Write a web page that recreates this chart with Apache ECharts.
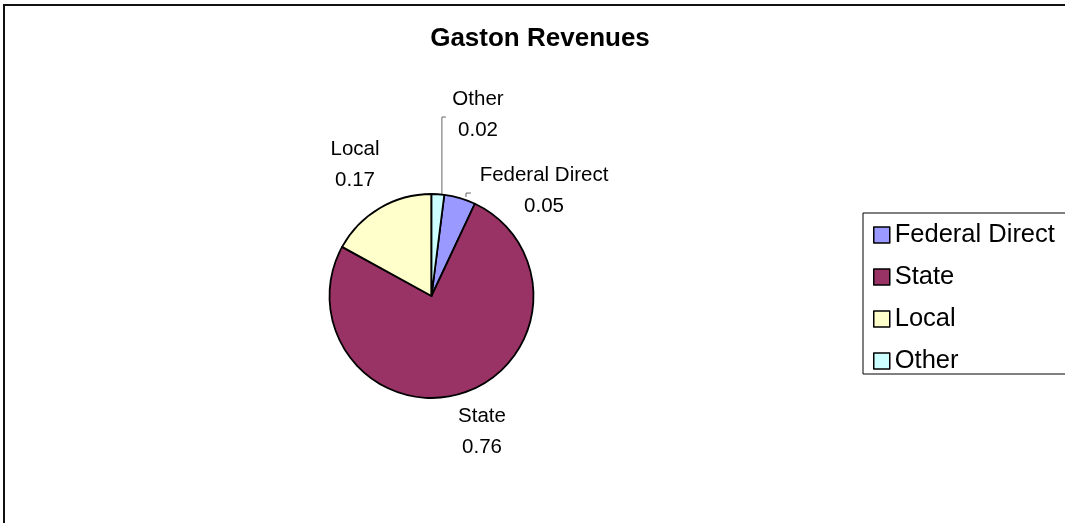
<!DOCTYPE html>
<html>
<head>
<meta charset="utf-8">
<title>Gaston Revenues</title>
<script src="https://cdn.jsdelivr.net/npm/echarts@6/dist/echarts.min.js"></script>
<style>
  html, body { margin: 0; padding: 0; background: #ffffff; }
  #chart { width: 1065px; height: 523px; }
</style>
</head>
<body>
<div id="chart"></div>
<script>
// Revenue shares by source
const categories = ['Federal Direct', 'State', 'Local', 'Other'];
const shares = [0.05, 0.76, 0.17, 0.02];
const sliceColors = ['#9999FF', '#993366', '#FFFFCC', '#CCFFFF'];
// slices whose labels are tied to the pie by a short leader
const withLeader = ['Federal Direct', 'Other'];

// centre of each two-line label block, in pixels
const labelSpots = {
  'Federal Direct': [544, 190.5],
  'State': [482, 431.5],
  'Local': [355, 165],
  'Other': [478, 114.5]
};

const FONT = '"Liberation Sans", Arial, Helvetica, sans-serif';

const pieData = categories.map(function (name, i) {
  return {
    name: name,
    value: shares[i],
    itemStyle: { color: sliceColors[i] },
    labelLine: { show: withLeader.indexOf(name) >= 0 }
  };
});

const chart = echarts.init(document.getElementById('chart'), null, { renderer: 'canvas' });

chart.setOption({
  backgroundColor: '#ffffff',
  animation: false,
  title: {
    text: 'Gaston Revenues',
    left: 535,
    top: 21,
    textAlign: 'center',
    textStyle: { fontFamily: FONT, fontSize: 26, fontWeight: 'bold', color: '#000000' }
  },
  legend: {
    orient: 'vertical',
    left: 863,
    top: 213,
    padding: [9, 40, 0, 10],
    icon: 'rect',
    itemWidth: 16,
    itemHeight: 16,
    itemGap: 16,
    itemTextGap: 9,
    borderColor: '#000000',
    borderWidth: 1,
    itemStyle: { borderColor: '#000000', borderWidth: 1.5 },
    textStyle: { fontFamily: FONT, fontSize: 25.5, lineHeight: 26, color: '#000000' },
    data: categories
  },
  graphic: [{
    type: 'rect',
    silent: true,
    z: 100,
    shape: { x: 4, y: 5, width: 1200, height: 700 },
    style: { fill: 'none', stroke: '#111111', lineWidth: 2 }
  }],
  series: [{
    type: 'pie',
    center: [431.5, 296],
    radius: 102,
    clockwise: true,
    // the last slice (Other) closes at twelve o'clock
    startAngle: 90 - shares[shares.length - 1] * 360,
    avoidLabelOverlap: false,
    itemStyle: { borderColor: '#000000', borderWidth: 1.8 },
    emphasis: { disabled: true },
    label: {
      show: true,
      position: 'outside',
      formatter: '{b}\n{c}',
      fontFamily: FONT,
      fontSize: 20.5,
      lineHeight: 31,
      color: '#000000'
    },
    labelLine: {
      length: 6,
      length2: 6,
      lineStyle: { color: '#666666', width: 1 }
    },
    labelLayout: function (p) {
      const name = categories[p.dataIndex];
      const spot = labelSpots[name];
      const out = { x: spot[0], y: spot[1], align: 'center', verticalAlign: 'middle' };
      if (withLeader.indexOf(name) >= 0 && p.labelLinePoints) {
        const e = p.labelLinePoints[0];
        if (name === 'Other') {
          const x = e[0] + 4;
          const topY = spot[1] + 2.5;
          out.labelLinePoints = [[x, e[1] + 0.5], [x, topY], [x + 4, topY]];
        } else {
          const x = e[0] + 6;
          const y = e[1] - 1;
          out.labelLinePoints = [[x, y], [x, y - 4], [x + 5, y - 4]];
        }
      }
      return out;
    },
    data: pieData
  }]
});
</script>
</body>
</html>
